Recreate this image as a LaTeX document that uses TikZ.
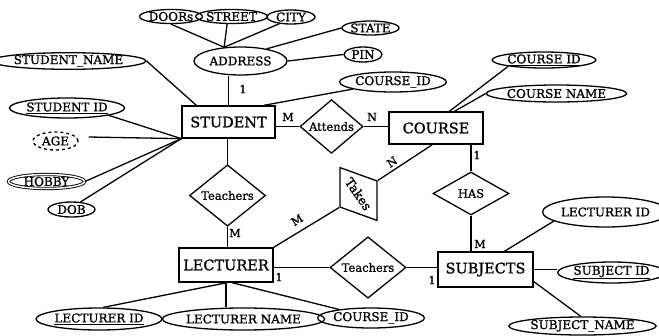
\documentclass[tikz,border=0pt]{standalone}
\usepackage{fontspec}
\setmainfont{DejaVu Serif}[FakeBold=1.2]
\usetikzlibrary{shapes.geometric,calc}
\begin{document}
\begin{tikzpicture}[x=1pt,y=-1pt,line width=1.3pt,
 ent/.style={draw,rectangle,inner sep=0pt,font=\fontsize{14.5}{16}\selectfont},
 rel/.style={draw,diamond,inner sep=0pt,minimum width=76pt,minimum height=43pt,font=\fontsize{11.5}{13}\selectfont},
 attr/.style={draw,ellipse,inner sep=0pt,font=\fontsize{12}{14}\selectfont},
 card/.style={font=\fontsize{11}{12}\selectfont,inner sep=0pt}]
\useasboundingbox (0,0) rectangle (659,335);
% entities
\node[ent,minimum width=93pt,minimum height=32pt] (student) at (228.5,122) {STUDENT};
\node[ent,minimum width=94pt,minimum height=32pt] (course) at (436,128) {COURSE};
\node[ent,minimum width=94pt,minimum height=34pt] (lecturer) at (226,265) {LECTURER};
\node[ent,minimum width=95pt,minimum height=35pt] (subjects) at (485.5,269.5) {SUBJECTS};
% relationships
\node[rel,minimum width=63pt,minimum height=42pt] (attends) at (331.5,126.5) {Attends};
\node[rel] (teach1) at (227.5,195.5) {Teachers};
\node[rel] (has) at (471,193.5) {HAS};
\node[rel] (teach2) at (368,267.5) {Teachers};
\node[rel,minimum width=65pt,minimum height=40pt,rotate=-55,font=\fontsize{12.5}{14}\selectfont] (takes) at (358.5,194) {Takes};
% attributes
\node[attr,minimum width=52pt,minimum height=14pt] (doors) at (171,16.5) {DOORs};
\node[attr,minimum width=67pt,minimum height=14pt] (street) at (231.5,16.5) {STREET};
\node[attr,minimum width=48pt,minimum height=14pt] (city) at (291,17) {CITY};
\node[attr,minimum width=93pt,minimum height=28pt] (addr) at (240.5,61) {ADDRESS};
\node[attr,minimum width=55pt,minimum height=14pt] (state) at (370.5,28) {STATE};
\node[attr,minimum width=38pt,minimum height=15pt] (pin) at (363,54.5) {PIN};
\node[attr,minimum width=125pt,minimum height=15pt] (sname) at (68.5,61) {STUDENT\_NAME};
\node[attr,minimum width=102pt,minimum height=20pt] (sid) at (67,108) {\underline{STUDENT ID}};
\node[attr,dashed,minimum width=45pt,minimum height=18pt] (age) at (55.5,141) {AGE};
\node[attr,double,double distance=1.5pt,line width=0.9pt,minimum width=76pt,minimum height=14pt] (hobby) at (46.5,181.5) {HOBBY};
\node[attr,minimum width=47pt,minimum height=15pt] (dob) at (71.5,209.5) {DOB};
\node[attr,minimum width=90pt,minimum height=20pt] (cid1) at (393,82) {COURSE\_ID};
\node[attr,minimum width=92pt,minimum height=16pt] (cid2) at (544,60) {\underline{COURSE ID}};
\node[attr,minimum width=117pt,minimum height=17pt] (cname) at (556.5,93.5) {COURSE NAME};
\node[attr,minimum width=118pt,minimum height=22pt] (lid) at (99,319) {\underline{LECTURER ID}};
\node[attr,minimum width=137pt,minimum height=22pt] (lname) at (243.5,319) {LECTURER NAME};
\node[attr,minimum width=99pt,minimum height=20pt] (cid3) at (371,318) {COURSE\_ID};
\node[attr,minimum width=105pt,minimum height=30pt] (lid2) at (605.5,212) {LECTURER ID};
\node[attr,minimum width=93pt,minimum height=21pt] (subid) at (611.5,272.5) {\underline{SUBJECT ID}};
\node[attr,minimum width=121pt,minimum height=18pt] (subname) at (582.5,326) {SUBJECT\_NAME};
% connectors
\coordinate (addrtl) at (addr.140);
\draw (doors.south) -- (addrtl);
\draw (street.240) -- (addrtl);
\draw (city.210) -- (addrtl);
\draw (addr.25) -- (state.west);
\draw (addr.east) -- (pin.west);
\draw (student.north) -- (student.north |- addr.south);
\draw (sname.east) -- ($(student.north west)+(15,0)$);
\draw ($(student.north east)+(-12,0)$) -- (cid1.190);
\draw (sid.-10) -- (student.south west);
\draw ($(age.east)+(10,-4)$) -- (student.south west);
\draw (hobby.east) -- (student.south west);
\draw (dob.40) -- (student.south west);
\draw (attends.west) -- (attends.west -| student.east);
\draw (attends.east) -- (attends.east -| course.west);
\draw (teach1.north) -- (teach1.north |- student.south);
\draw (teach1.south) -- (teach1.south |- lecturer.north);
\draw ($(course.north west)+(61,0)$) -- (cid2.190);
\draw ($(course.north west)+(66,0)$) -- (cname.west);
\draw (has.north) -- (has.north |- course.south);
\draw (has.south) -- (has.south |- subjects.north);
\draw ($(course.south west)+(44,0)$) -- (takes.north);
\draw (takes.south) -- (lecturer.north east);
\draw (teach2.west) -- (teach2.west -| lecturer.east);
\draw (teach2.east) -- (teach2.east -| subjects.west);
\draw ($(lecturer.south)+(1,0)$) -- (lid.70);
\draw (lecturer.south) -- (lecturer.south |- lname.north);
\draw ($(lecturer.south)+(6,0)$) -- (cid3.165);
\draw ($(subjects.north west)+(67,0)$) -- (lid2.190);
\draw (subjects.east) -- (subjects.east -| subid.west);
\draw ($(subjects.east)+(0,12)$) -- (subname.100);
% cardinalities
\node[card] (c1) at (243,89) {1};
\node[card] (c2) at (288,117) {M};
\node[card] (c3) at (372,117) {N};
\node[card] (c4) at (235,233) {M};
\node[card] (c5) at (477,155) {1};
\node[card] (c6) at (480,244) {M};
\node[card,rotate=34] (c7) at (392,162) {N};
\node[card,rotate=32] (c8) at (297,220) {M};
\node[card] (c9) at (279,277) {1};
\node[card] (c10) at (432,280) {1};
\end{tikzpicture}
\end{document}
